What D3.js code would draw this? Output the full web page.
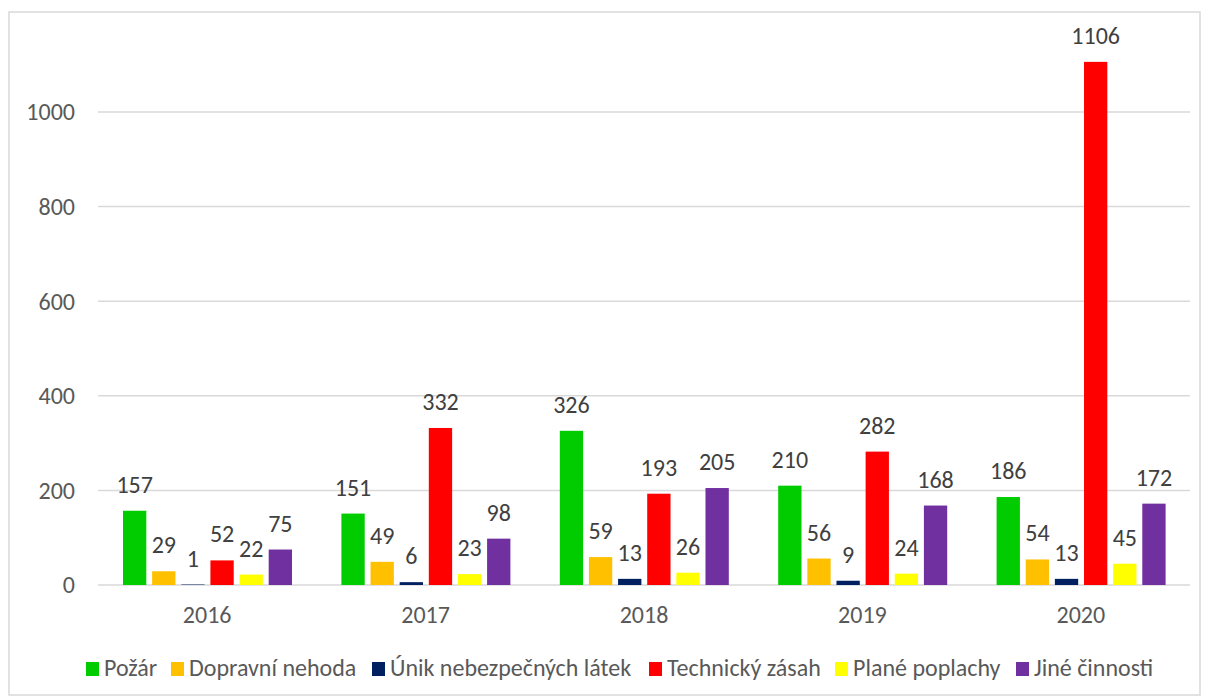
<!DOCTYPE html>
<html><head><meta charset="utf-8">
<script src="https://cdn.jsdelivr.net/npm/d3@7"></script>
<style>body{margin:0;background:#fff}svg{display:block}</style>
</head><body>
<script>
const years = ["2016","2017","2018","2019","2020"];
const seriesNames = ["Požár","Dopravní nehoda","Únik nebezpečných látek","Technický zásah","Plané poplachy","Jiné činnosti"];
const seriesColors = ["#00cc00","#ffc000","#002060","#ff0000","#ffff00","#7030a0"];
const pozar = [157,151,326,210,186];
const dopravni = [29,49,59,56,54];
const unik = [1,6,13,9,13];
const technicky = [52,332,193,282,1106];
const plane = [22,23,26,24,45];
const jine = [75,98,205,168,172];
const yTicks = [0,200,400,600,800,1000];
const seriesValues = [pozar,dopravni,unik,technicky,plane,jine];

const W=1208,H=700;
const font = "Carlito, Calibri, 'Liberation Sans', sans-serif";
const fs = 24;
const svg = d3.select("body").append("svg").attr("width",W).attr("height",H);
svg.append("rect").attr("x",9).attr("y",12).attr("width",1191).attr("height",683)
  .attr("fill","#fff").attr("stroke","#d9d9d9").attr("stroke-width",1.5);

const y = d3.scaleLinear().domain([0,1000]).range([585,112]);
const x0 = d3.scaleBand().domain(years).range([98,1190]).padding(0);
const x1 = d3.scaleBand().domain(seriesNames).range([25,194]).paddingInner(0.2);

svg.append("g").selectAll("line").data(yTicks).join("line")
  .attr("x1",98).attr("x2",1190).attr("y1",d=>y(d)).attr("y2",d=>y(d))
  .attr("stroke","#d9d9d9").attr("stroke-width",1.5);

svg.append("g").selectAll("text").data(yTicks).join("text")
  .attr("x",75).attr("y",d=>y(d)).attr("dy","0.35em").attr("text-anchor","end")
  .attr("font-family",font).attr("font-size",fs).attr("fill","#595959").text(d=>d);

const groups = svg.append("g").selectAll("g").data(years).join("g")
  .attr("transform",d=>`translate(${x0(d)},0)`);
seriesNames.forEach((s,si)=>{
  groups.append("rect")
    .attr("x",x1(s)).attr("width",x1.bandwidth())
    .attr("y",(d,i)=>y(seriesValues[si][i]))
    .attr("height",(d,i)=>y(0)-y(seriesValues[si][i]))
    .attr("fill",seriesColors[si]);
  groups.append("text")
    .attr("x",x1(s)+x1.bandwidth()/2)
    .attr("y",(d,i)=>y(seriesValues[si][i])-18)
    .attr("text-anchor","middle").attr("font-family",font).attr("font-size",fs)
    .attr("fill","#404040").text((d,i)=>seriesValues[si][i]);
});

svg.append("g").selectAll("text").data(years).join("text")
  .attr("x",d=>x0(d)+x0.bandwidth()/2).attr("y",623).attr("text-anchor","middle")
  .attr("font-family",font).attr("font-size",fs).attr("fill","#595959").text(d=>d);

// legend
const legendSquareX = [86,171,372,649,835,1016];
const lg = svg.append("g");
seriesNames.forEach((s,i)=>{
  lg.append("rect").attr("x",legendSquareX[i]).attr("y",662).attr("width",13).attr("height",14).attr("fill",seriesColors[i]);
  lg.append("text").attr("x",legendSquareX[i]+18).attr("y",676)
    .attr("font-family",font).attr("font-size",fs).attr("fill","#595959").text(s);
});
</script>
</body></html>
